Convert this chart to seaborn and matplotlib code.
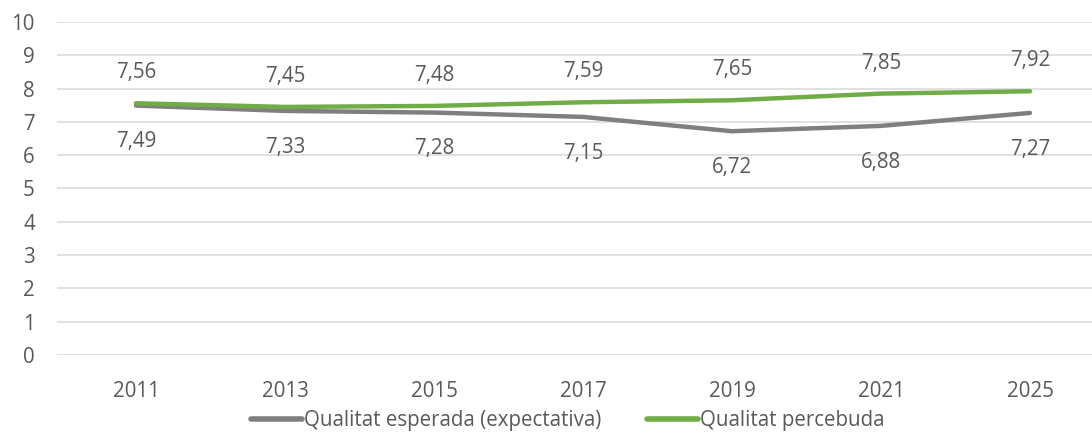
import numpy as np
import pandas as pd
import matplotlib
matplotlib.use("Agg")
import matplotlib.pyplot as plt
import seaborn as sns

# data
years = ["2011", "2013", "2015", "2017", "2019", "2021", "2025"]
esperada = [7.49, 7.33, 7.28, 7.15, 6.72, 6.88, 7.27]
percebuda = [7.56, 7.45, 7.48, 7.59, 7.65, 7.85, 7.92]
series_names = ["Qualitat esperada (expectativa)", "Qualitat percebuda"]

GREY = "#7f7f7f"
GREEN = "#70ad47"
TXT = "#595959"
FS = 14.8

sns.set_theme(style="white")
plt.rcParams["font.family"] = ["Open Sans", "DejaVu Sans"]

pos = np.arange(len(years))
df = pd.DataFrame({
    "pos": np.concatenate([pos, pos]),
    "valor": esperada + percebuda,
    "serie": [series_names[0]] * len(years) + [series_names[1]] * len(years),
})

fig = plt.figure(figsize=(10.92, 4.36), dpi=100)
ax = fig.add_axes([57 / 1092, 1 - 355 / 436, 1047.5 / 1092, 333 / 436])

sns.lineplot(data=df, x="pos", y="valor", hue="serie",
             palette=[GREY, GREEN], linewidth=3.2, sort=False,
             legend=False, ax=ax, solid_capstyle="round", solid_joinstyle="round")

ax.set_ylim(0, 10)
ax.set_xlim(-0.53, 6.5)
ax.set_yticks(range(0, 11))
ax.set_xticks(pos)
ax.set_xticklabels(years)
ax.yaxis.grid(True, color="#d9d9d9", linewidth=1.1)
ax.set_axisbelow(True)
for s in ax.spines.values():
    s.set_visible(False)
ax.tick_params(axis="x", length=0, pad=19, labelsize=FS, labelcolor=TXT)
ax.tick_params(axis="y", length=0, pad=16, labelsize=FS, labelcolor=TXT)
ax.set_xlabel("")
ax.set_ylabel("")

def fmt(v):
    return f"{v:.2f}".replace(".", ",")

for i in range(len(years)):
    ax.annotate(fmt(percebuda[i]), (pos[i], percebuda[i]), xytext=(0, 22),
                textcoords="offset points", ha="center", va="center",
                fontsize=FS, color=TXT)
    ax.annotate(fmt(esperada[i]), (pos[i], esperada[i]), xytext=(0, -26),
                textcoords="offset points", ha="center", va="center",
                fontsize=FS, color=TXT)

handles = [plt.Line2D([], [], color=GREY, linewidth=4, solid_capstyle="round"),
           plt.Line2D([], [], color=GREEN, linewidth=4, solid_capstyle="round")]
fig.legend(handles, series_names, loc="center", bbox_to_anchor=(0.52, 0.035),
           ncol=2, frameon=False, fontsize=FS, labelcolor=TXT,
           handlelength=2.5, handletextpad=0.1, columnspacing=2.2)

fig.savefig("out.png", dpi=100)
